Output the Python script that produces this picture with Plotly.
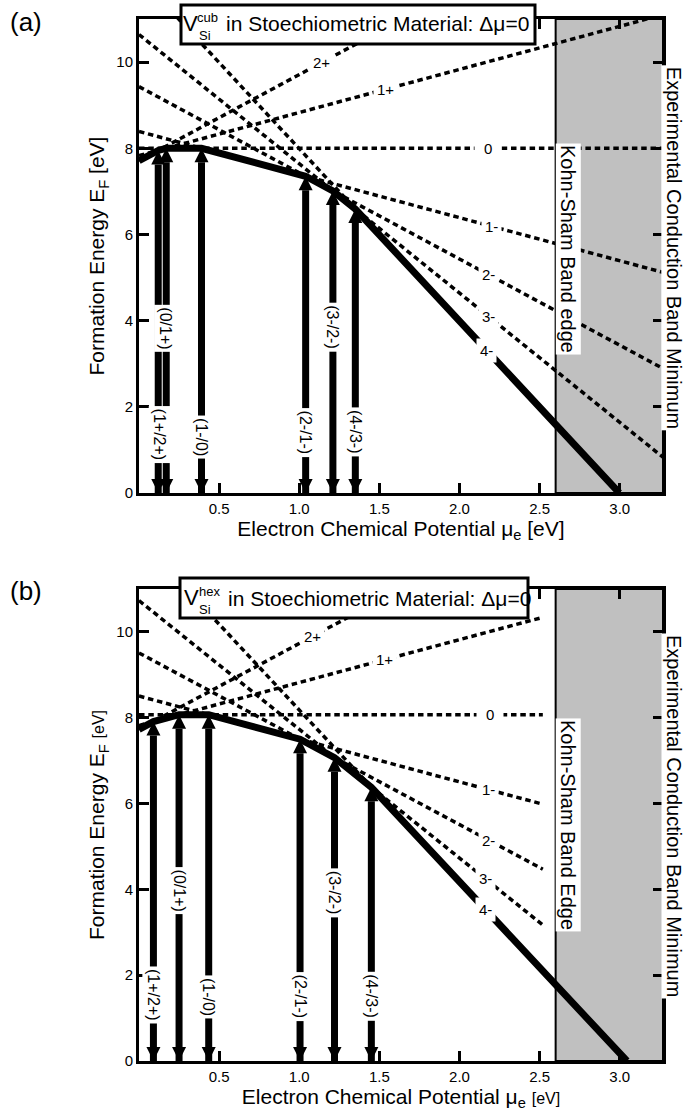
import plotly.graph_objects as go

# ---------------- data ----------------
charges = [2, 1, 0, -1, -2, -3, -4]
charge_labels = ["2+", "1+", "0", "1-", "2-", "3-", "4-"]
transition_labels = ["(1+/2+)", "(0/1+)", "(1-/0)", "(2-/1-)", "(3-/2-)", "(4-/3-)"]

# formation energy at mu_e = 0 for each charge state [eV]
e0_cub = [7.71, 7.83, 8.00, 8.39, 9.43, 10.64, 11.99]
e0_hex = [7.73, 7.82, 8.07, 8.505, 9.51, 10.73, 12.18]

ks_gap = 2.60      # Kohn-Sham band edge [eV]
exp_gap = 3.27     # experimental conduction band minimum [eV]
line_end_cub = 3.27
line_end_hex = 2.52

# where the charge-state labels sit along each line (mu_e)
label_mu_cub = [1.14, 1.54, 2.18, 2.20, 2.18, 2.18, 2.17]
label_mu_hex = [1.08, 1.53, 2.19, 2.18, 2.18, 2.16, 2.16]

# transition-level label positions (mu_e, E)
tl_label_mu_cub = [0.13, 0.16, 0.39, 1.04, 1.21, 1.35]
tl_label_e_cub = [1.36, 3.83, 1.31, 1.41, 3.85, 1.41]
tl_label_mu_hex = [0.087, 0.25, 0.435, 1.005, 1.22, 1.45]
tl_label_e_hex = [1.54, 3.97, 1.50, 1.50, 3.93, 1.50]

x_ticks = [0.5, 1.0, 1.5, 2.0, 2.5, 3.0]
y_ticks = [0, 2, 4, 6, 8, 10]

# ---------------- layout geometry ----------------
W, H = 685, 1117
L, R, T, B = 139, 22, 19, 56
PW = W - L - R
PH = H - T - B
panels = {
    "a": dict(top=19, bottom=493),
    "b": dict(top=589, bottom=1061),
}
FONT = "Liberation Sans, Arial, Helvetica, sans-serif"


def dom(top, bottom):
    return [1 - (bottom - T) / PH, 1 - (top - T) / PH]


def px_x(px):
    return (px - L) / PW


def px_y(py, p):
    return (panels[p]["bottom"] - py) / (panels[p]["bottom"] - panels[p]["top"])


fig = go.Figure()
annotations = []
shapes = []


def energy(e0, q, mu):
    return e0 + q * mu


def add_panel(xr, yr, e0, line_end, label_mu, tl_mu, tl_e, ks_text, ks_y, exp_y):
    # gray region between KS edge and experimental CBM
    shapes.append(dict(type="rect", xref=xr, yref=yr, x0=ks_gap, x1=exp_gap, y0=0, y1=11,
                       fillcolor="#c0c0c0", line=dict(color="black", width=2), layer="below"))
    # dotted charge-state lines
    for q, e in zip(charges, e0):
        xs = [0, line_end]
        ys = [energy(e, q, x) for x in xs]
        fig.add_trace(go.Scatter(x=xs, y=ys, mode="lines", xaxis=xr, yaxis=yr,
                                 line=dict(color="black", width=3.5, dash="5.5px,3.8px"),
                                 showlegend=False, hoverinfo="skip"))
    # transition levels and the lowest-energy envelope
    trans = [e0[i + 1] - e0[i] for i in range(len(e0) - 1)]
    zero_cross = e0[-1] / (-charges[-1])
    env_x = [0] + trans + [zero_cross]
    env_y = [min(energy(e, q, x) for q, e in zip(charges, e0)) for x in env_x]
    fig.add_trace(go.Scatter(x=env_x, y=env_y, mode="lines", xaxis=xr, yaxis=yr,
                             line=dict(color="black", width=7),
                             showlegend=False, hoverinfo="skip"))
    # double arrows from E=0 up to the envelope at each transition level
    for t in trans:
        et = min(energy(e, q, t) for q, e in zip(charges, e0))
        fig.add_trace(go.Scatter(x=[t, t], y=[0, et], mode="lines+markers",
                                 xaxis=xr, yaxis=yr,
                                 line=dict(color="black", width=7),
                                 marker=dict(symbol=["arrow-down", "arrow-up"], size=14,
                                             color="black", line=dict(width=0)),
                                 cliponaxis=False,
                                 showlegend=False, hoverinfo="skip"))
    # transition labels
    for lab, mx, ey in zip(transition_labels, tl_mu, tl_e):
        annotations.append(dict(xref=xr, yref=yr, x=mx, y=ey, text=lab, showarrow=False,
                                xanchor="center", yanchor="middle",
                                textangle=90, bgcolor="white", borderpad=2,
                                font=dict(size=16, color="black", family=FONT)))
    # charge-state labels
    for lab, q, e, mx in zip(charge_labels, charges, e0, label_mu):
        pad = 9 if q == 0 else 3
        annotations.append(dict(xref=xr, yref=yr, x=mx, y=energy(e, q, mx), text=lab,
                                showarrow=False, bgcolor="white", borderpad=pad,
                                xanchor="center", yanchor="middle",
                                font=dict(size=15, color="black", family=FONT)))
    # Kohn-Sham band edge label
    annotations.append(dict(xref=xr, yref=yr, x=ks_gap, xanchor="left", y=ks_y,
                            yanchor="middle", text=ks_text,
                            showarrow=False, textangle=90, bgcolor="white", borderpad=1,
                            font=dict(size=20, color="black", family=FONT)))
    # experimental CBM label
    annotations.append(dict(xref="paper", yref=yr, x=1, xshift=11, xanchor="center",
                            y=exp_y, yanchor="middle",
                            text="Experimental Conduction Band Minimum",
                            showarrow=False, textangle=90, bgcolor="white", borderpad=1,
                            font=dict(size=20, color="black", family=FONT)))


add_panel("x", "y", e0_cub, line_end_cub, label_mu_cub,
          tl_label_mu_cub, tl_label_e_cub, "Kohn-Sham Band edge", 5.67, 5.69)
add_panel("x2", "y2", e0_hex, line_end_hex, label_mu_hex,
          tl_label_mu_hex, tl_label_e_hex, "Kohn-Sham Band Edge", 5.51, 5.71)

# title boxes
title_boxes = {
    "a": dict(x0=181, x1=535, y0=5, y1=44, sup="cub", V=(190, 23), sup_xy=(207, 17),
              sub_xy=(205, 35), main=(224, 24)),
    "b": dict(x0=180, x1=528, y0=578, y1=618, sup="hex", V=(191, 597), sup_xy=(209, 591),
              sub_xy=(205, 609), main=(226, 598)),
}
for p, tb in title_boxes.items():
    xr = "x domain" if p == "a" else "x2 domain"
    yr = "y domain" if p == "a" else "y2 domain"
    shapes.append(dict(type="rect", xref=xr, yref=yr, x0=px_x(tb["x0"]), x1=px_x(tb["x1"]),
                       y0=px_y(tb["y1"], p), y1=px_y(tb["y0"], p),
                       fillcolor="white", line=dict(color="black", width=3), layer="above"))
    common = dict(xref=xr, yref=yr, showarrow=False, yanchor="middle")
    annotations.append(dict(common, x=px_x(tb["V"][0]), y=px_y(tb["V"][1], p),
                            xanchor="center", text="V",
                            font=dict(size=22, color="black", family=FONT)))
    annotations.append(dict(common, x=px_x(tb["sup_xy"][0]), y=px_y(tb["sup_xy"][1], p),
                            xanchor="center", text=tb["sup"],
                            font=dict(size=13, color="black", family=FONT)))
    annotations.append(dict(common, x=px_x(tb["sub_xy"][0]), y=px_y(tb["sub_xy"][1], p),
                            xanchor="center", text="Si",
                            font=dict(size=13, color="black", family=FONT)))
    annotations.append(dict(common, x=px_x(tb["main"][0]), xanchor="left",
                            y=px_y(tb["main"][1], p),
                            text="in Stoechiometric Material: Δμ=0",
                            font=dict(size=21, color="black", family=FONT)))

# panel labels
annotations.append(dict(xref="paper", yref="paper", x=px_x(8), xanchor="left",
                        y=1 - (22 - T) / PH, yanchor="middle", text="(a)", showarrow=False,
                        font=dict(size=26, color="black", family=FONT)))
annotations.append(dict(xref="paper", yref="paper", x=px_x(8), xanchor="left",
                        y=1 - (591 - T) / PH, yanchor="middle", text="(b)", showarrow=False,
                        font=dict(size=26, color="black", family=FONT)))

axis_common = dict(showline=True, linewidth=3, linecolor="black", mirror="ticks",
                   ticks="inside", ticklen=10, tickwidth=2.5, tickcolor="black",
                   showgrid=False, zeroline=False,
                   tickfont=dict(size=15, color="black", family=FONT))
xaxis_common = dict(axis_common, range=[0, exp_gap], tickvals=x_ticks,
                    ticktext=[f"{v:.1f}" for v in x_ticks])
yaxis_common = dict(axis_common, range=[0, 11], tickvals=y_ticks,
                    ticktext=[str(v) for v in y_ticks])

fig.update_layout(
    width=W, height=H, margin=dict(l=L, r=R, t=T, b=B),
    paper_bgcolor="white", plot_bgcolor="white",
    font=dict(family=FONT, color="black"),
    xaxis=dict(xaxis_common, domain=[0, 1], anchor="y",
               title=dict(text="Electron Chemical Potential μ<sub>e</sub> [eV]",
                          font=dict(size=21), standoff=3)),
    yaxis=dict(yaxis_common, domain=dom(19, 493), anchor="x",
               title=dict(text="Formation Energy E<sub>F</sub> [eV]",
                          font=dict(size=21), standoff=6)),
    xaxis2=dict(xaxis_common, domain=[0, 1], anchor="y2",
                title=dict(text="Electron Chemical Potential μ<sub>e</sub> "
                                "<span style='font-size:16px'>[eV]</span>",
                           font=dict(size=21), standoff=3)),
    yaxis2=dict(yaxis_common, domain=dom(589, 1061), anchor="x2",
                title=dict(text="Formation Energy E<sub>F</sub> "
                                "<span style='font-size:16px'>[eV]</span>",
                           font=dict(size=21), standoff=6)),
    shapes=shapes,
    annotations=annotations,
)

fig.write_html("out.html")
